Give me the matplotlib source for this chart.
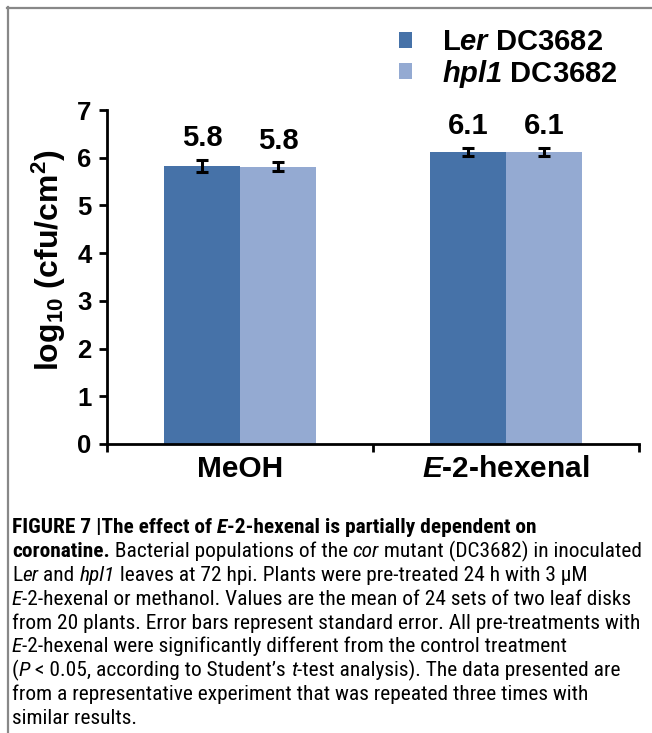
import matplotlib
matplotlib.use("Agg")
import matplotlib.pyplot as plt
from matplotlib import font_manager as fm
from matplotlib.lines import Line2D
import numpy as np

# ---------------- data ----------------
categories = [r"MeOH", r"$\mathsf{E}$-2-hexenal"]
series_names = [r"L$\mathsf{er}$ DC3682", r"$\mathsf{hpl1}$ DC3682"]
ler_values = [5.83, 6.12]
hpl1_values = [5.81, 6.12]
ler_err = [0.12, 0.09]
hpl1_err = [0.09, 0.09]
value_labels_ler = ["5.8", "6.1"]
value_labels_hpl1 = ["5.8", "6.1"]
yticks = [0, 1, 2, 3, 4, 5, 6, 7]

colors = ["#4672A8", "#94AAD2"]

W, H = 652, 733
plt.rcParams["font.family"] = ["Liberation Sans", "DejaVu Sans"]
plt.rcParams["mathtext.fontset"] = "custom"
plt.rcParams["mathtext.rm"] = "Liberation Sans:bold"
plt.rcParams["mathtext.it"] = "Liberation Sans:italic:bold"
plt.rcParams["mathtext.sf"] = "Liberation Sans:italic:bold"
plt.rcParams["mathtext.bf"] = "Liberation Sans:bold"

fig = plt.figure(figsize=(W / 100, H / 100), dpi=100)

def fx(px):
    return px / W

def fy(py):
    return 1 - py / H

ax_left, ax_right, ax_top, ax_bottom = 107, 639, 110, 444
ax = fig.add_axes([fx(ax_left), fy(ax_bottom), (ax_right - ax_left) / W, (ax_bottom - ax_top) / H])

x = np.arange(len(categories))
bw = 0.286
b1 = ax.bar(x - bw / 2, ler_values, bw, color=colors[0], label=series_names[0], zorder=2)
b2 = ax.bar(x + bw / 2, hpl1_values, bw, color=colors[1], label=series_names[1], zorder=2)
ax.errorbar(x - bw / 2, ler_values, yerr=ler_err, fmt="none", ecolor="black",
            elinewidth=2.2, capsize=4, capthick=2.2, zorder=3)
ax.errorbar(x + bw / 2, hpl1_values, yerr=hpl1_err, fmt="none", ecolor="black",
            elinewidth=2.2, capsize=4, capthick=2.2, zorder=3)

for xi, v, e, lab in zip(x - bw / 2, ler_values, ler_err, value_labels_ler):
    ax.annotate(lab, (xi, v + e), xytext=(0, 5.5), textcoords="offset points",
                ha="center", va="bottom", fontsize=21, fontweight="bold")
for xi, v, e, lab in zip(x + bw / 2, hpl1_values, hpl1_err, value_labels_hpl1):
    ax.annotate(lab, (xi, v + e), xytext=(0, 5.5), textcoords="offset points",
                ha="center", va="bottom", fontsize=21, fontweight="bold")

ax.set_xlim(-0.5, 1.5)
ax.set_ylim(0, 7)
ax.set_yticks(yticks)
ax.set_yticklabels([str(t) for t in yticks], fontsize=18.5, fontweight="bold")
ax.set_xticks([-0.5, 0.5, 1.5])
ax.set_xticklabels(["", "", ""])
ax.set_xticks(x, minor=True)
ax.set_xticklabels(categories, minor=True, fontsize=21.5, fontweight="bold")
ax.tick_params(axis="x", which="minor", length=0, pad=8)
ax.tick_params(axis="x", which="major", length=6, width=2, direction="out")
ax.tick_params(axis="y", length=6, width=2, direction="out", pad=5)
for s in ["top", "right"]:
    ax.spines[s].set_visible(False)
for s in ["left", "bottom"]:
    ax.spines[s].set_linewidth(2)

ax.set_ylabel(r"log$_{\mathrm{10}}$ (cfu/cm$^{\mathrm{2}}$)", fontsize=23, fontweight="bold")
ax.yaxis.set_label_coords(-0.11, 0.55)
ax.yaxis.label.set_va("center")

leg = fig.legend(handles=[b1, b2], labels=series_names, loc="upper left",
                 bbox_to_anchor=(fx(373), fy(2)), frameon=False,
                 handlelength=0.45, handleheight=0.45, handletextpad=1.0,
                 labelspacing=0.05, prop={"weight": "bold", "size": 21})

# border lines
fig.add_artist(Line2D([fx(7), fx(W)], [fy(7.5), fy(7.5)], color="#888888", lw=1.6))
fig.add_artist(Line2D([fx(7.5), fx(7.5)], [fy(7), fy(H)], color="#888888", lw=1.6))

# ---------------- caption ----------------
avail = {f.name for f in fm.fontManager.ttflist}
cap_family = "Liberation Sans"
for cand in ["Liberation Sans Narrow", "Roboto Condensed", "Open Sans Condensed"]:
    if cand in avail:
        cap_family = cand
        break

caption_lines = [
    [("FIGURE 7 |The effect of ", "bold", "normal"), ("E", "bold", "italic"),
     ("-2-hexenal is partially dependent on", "bold", "normal")],
    [("coronatine.", "bold", "normal"), (" Bacterial populations of the ", "normal", "normal"),
     ("cor", "normal", "italic"), (" mutant (DC3682) in inoculated", "normal", "normal")],
    [("L", "normal", "normal"), ("er", "normal", "italic"), (" and ", "normal", "normal"),
     ("hpl1", "normal", "italic"), (" leaves at 72 hpi. Plants were pre-treated 24 h with 3 \u03bcM", "normal", "normal")],
    [("E", "normal", "italic"), ("-2-hexenal or methanol. Values are the mean of 24 sets of two leaf disks", "normal", "normal")],
    [("from 20 plants. Error bars represent standard error. All pre-treatments with", "normal", "normal")],
    [("E", "normal", "italic"), ("-2-hexenal were significantly different from the control treatment", "normal", "normal")],
    [("(", "normal", "normal"), ("P", "normal", "italic"), (" < 0.05, according to Student\u2019s ", "normal", "normal"),
     ("t", "normal", "italic"), ("-test analysis). The data presented are", "normal", "normal")],
    [("from a representative experiment that was repeated three times with", "normal", "normal")],
    [("similar results.", "normal", "normal")],
]

fig.canvas.draw()
renderer = fig.canvas.get_renderer()

def draw_line(segs, x0, yb, size):
    xpos = x0
    arts = []
    for txt, wt, st in segs:
        t = fig.text(fx(xpos), fy(yb), txt, fontsize=size, fontweight=wt, fontstyle=st,
                     family=[cap_family, "DejaVu Sans"], ha="left", va="baseline")
        w = t.get_window_extent(renderer).width
        xpos += w
        arts.append(t)
    return xpos - x0, arts

# fit caption width to target
target_w = 645 - 12
w, arts = draw_line(caption_lines[1], 12, -100, 14)
for a in arts:
    a.remove()
cap_size = 14 * target_w / w

y0 = 533
dy = 23.9
for i, segs in enumerate(caption_lines):
    draw_line(segs, 12, y0 + i * dy, cap_size)

fig.savefig("out.png", dpi=100)
